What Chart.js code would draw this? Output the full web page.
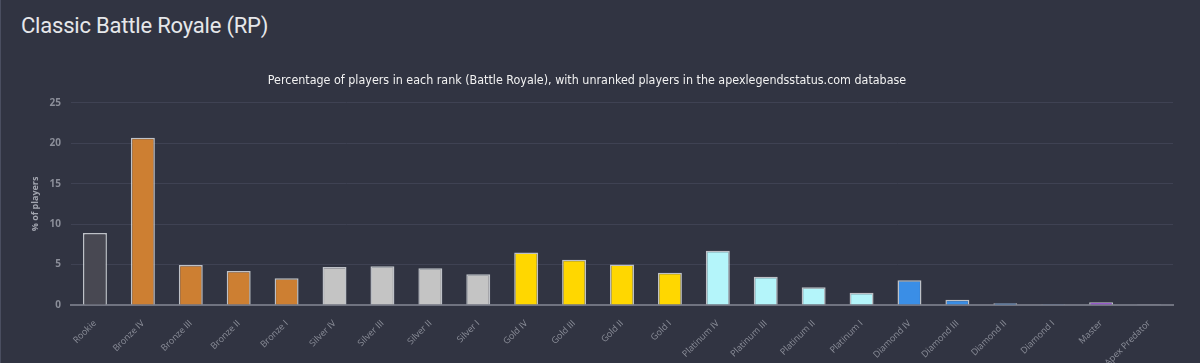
<!DOCTYPE html>
<html lang="en">
<head>
<meta charset="UTF-8">
<title>Classic Battle Royale (RP)</title>
<script src="https://cdn.jsdelivr.net/npm/chart.js@4"></script>
<style>
  * { margin: 0; padding: 0; box-sizing: border-box; }
  html, body { width: 1200px; height: 363px; overflow: hidden; }
  body { background: #313442; border-left: 1px solid #4a4e60; font-family: Roboto, 'Noto Sans', sans-serif; position: relative; }
  h1 { position: absolute; left: 20px; top: 13px; font-size: 22px; font-weight: 400; color: #e6e7ea; letter-spacing: -0.2px; }
  .chart-box { position: absolute; left: 0; top: 61px; width: 1176px; height: 302px; }
</style>
</head>
<body>
<h1>Classic Battle Royale (RP)</h1>
<div class="chart-box"><canvas id="rankChart"></canvas></div>

<script>
// Ranks and share of players (%)
const ranks = [
  'Rookie', 'Bronze IV', 'Bronze III', 'Bronze II', 'Bronze I',
  'Silver IV', 'Silver III', 'Silver II', 'Silver I',
  'Gold IV', 'Gold III', 'Gold II', 'Gold I',
  'Platinum IV', 'Platinum III', 'Platinum II', 'Platinum I',
  'Diamond IV', 'Diamond III', 'Diamond II', 'Diamond I',
  'Master', 'Apex Predator'
];
const playerShare = [
  8.9, 20.7, 4.95, 4.2, 3.3,
  4.7, 4.8, 4.55, 3.8,
  6.5, 5.6, 5.0, 4.0,
  6.7, 3.5, 2.2, 1.5,
  3.05, 0.65, 0.22, 0.1,
  0.35, 0.1
];
const yTicks = [0, 5, 10, 15, 20, 25];

// Tier colours
const barColors = [
  '#484852', '#cd7f32', '#cd7f32', '#cd7f32', '#cd7f32',
  '#c4c4c4', '#c4c4c4', '#c4c4c4', '#c4c4c4',
  '#ffd700', '#ffd700', '#ffd700', '#ffd700',
  '#b4f5fa', '#b4f5fa', '#b4f5fa', '#b4f5fa',
  '#3a8ee6', '#3a8ee6', '#3a8ee6', '#3a8ee6',
  '#b05cf0', '#d0d0d0'
];

new Chart(document.getElementById('rankChart'), {
  type: 'bar',
  data: {
    labels: ranks,
    datasets: [{
      label: '% of players',
      data: playerShare,
      backgroundColor: barColors,
      borderColor: 'rgba(215,218,222,0.85)',
      borderWidth: 1.5,
      barPercentage: 0.5,
      categoryPercentage: 1
    }]
  },
  options: {
    responsive: true,
    maintainAspectRatio: false,
    animation: false,
    layout: { padding: { left: 0, right: 4, top: 0, bottom: 0 } },
    plugins: {
      legend: { display: false },
      tooltip: { enabled: false },
      title: {
        display: true,
        text: 'Percentage of players in each rank (Battle Royale), with unranked players in the apexlegendsstatus.com database',
        color: '#f2f2f2',
        font: { family: "'Liberation Sans Narrow', 'DejaVu Sans Condensed', sans-serif", size: 12.4, weight: 'normal' },
        padding: { top: 12, bottom: 15 }
      }
    },
    scales: {
      x: {
        grid: { display: false },
        border: { display: true, color: '#707380', width: 2 },
        ticks: {
          color: '#8b8e99',
          font: { family: "'Open Sans', sans-serif", size: 9 },
          minRotation: 45,
          maxRotation: 45,
          padding: 5,
          autoSkip: false
        },
        afterFit: scale => { scale.height = 58; }
      },
      y: {
        min: 0,
        max: 25,
        afterBuildTicks: scale => { scale.ticks = yTicks.map(v => ({ value: v })); },
        grid: { color: '#3f4253', drawTicks: false },
        border: { display: false },
        ticks: {
          color: '#8b8e99',
          font: { family: "'Open Sans', sans-serif", size: 10, weight: 'bold' },
          padding: 10
        },
        title: {
          display: true,
          text: '% of players',
          color: '#a3a6b0',
          font: { family: "'Open Sans', sans-serif", size: 9, weight: 'bold' },
          padding: { top: 29, bottom: 0 }
        },
        afterFit: scale => { scale.width = 70; }
      }
    }
  }
});
</script>
</body>
</html>
